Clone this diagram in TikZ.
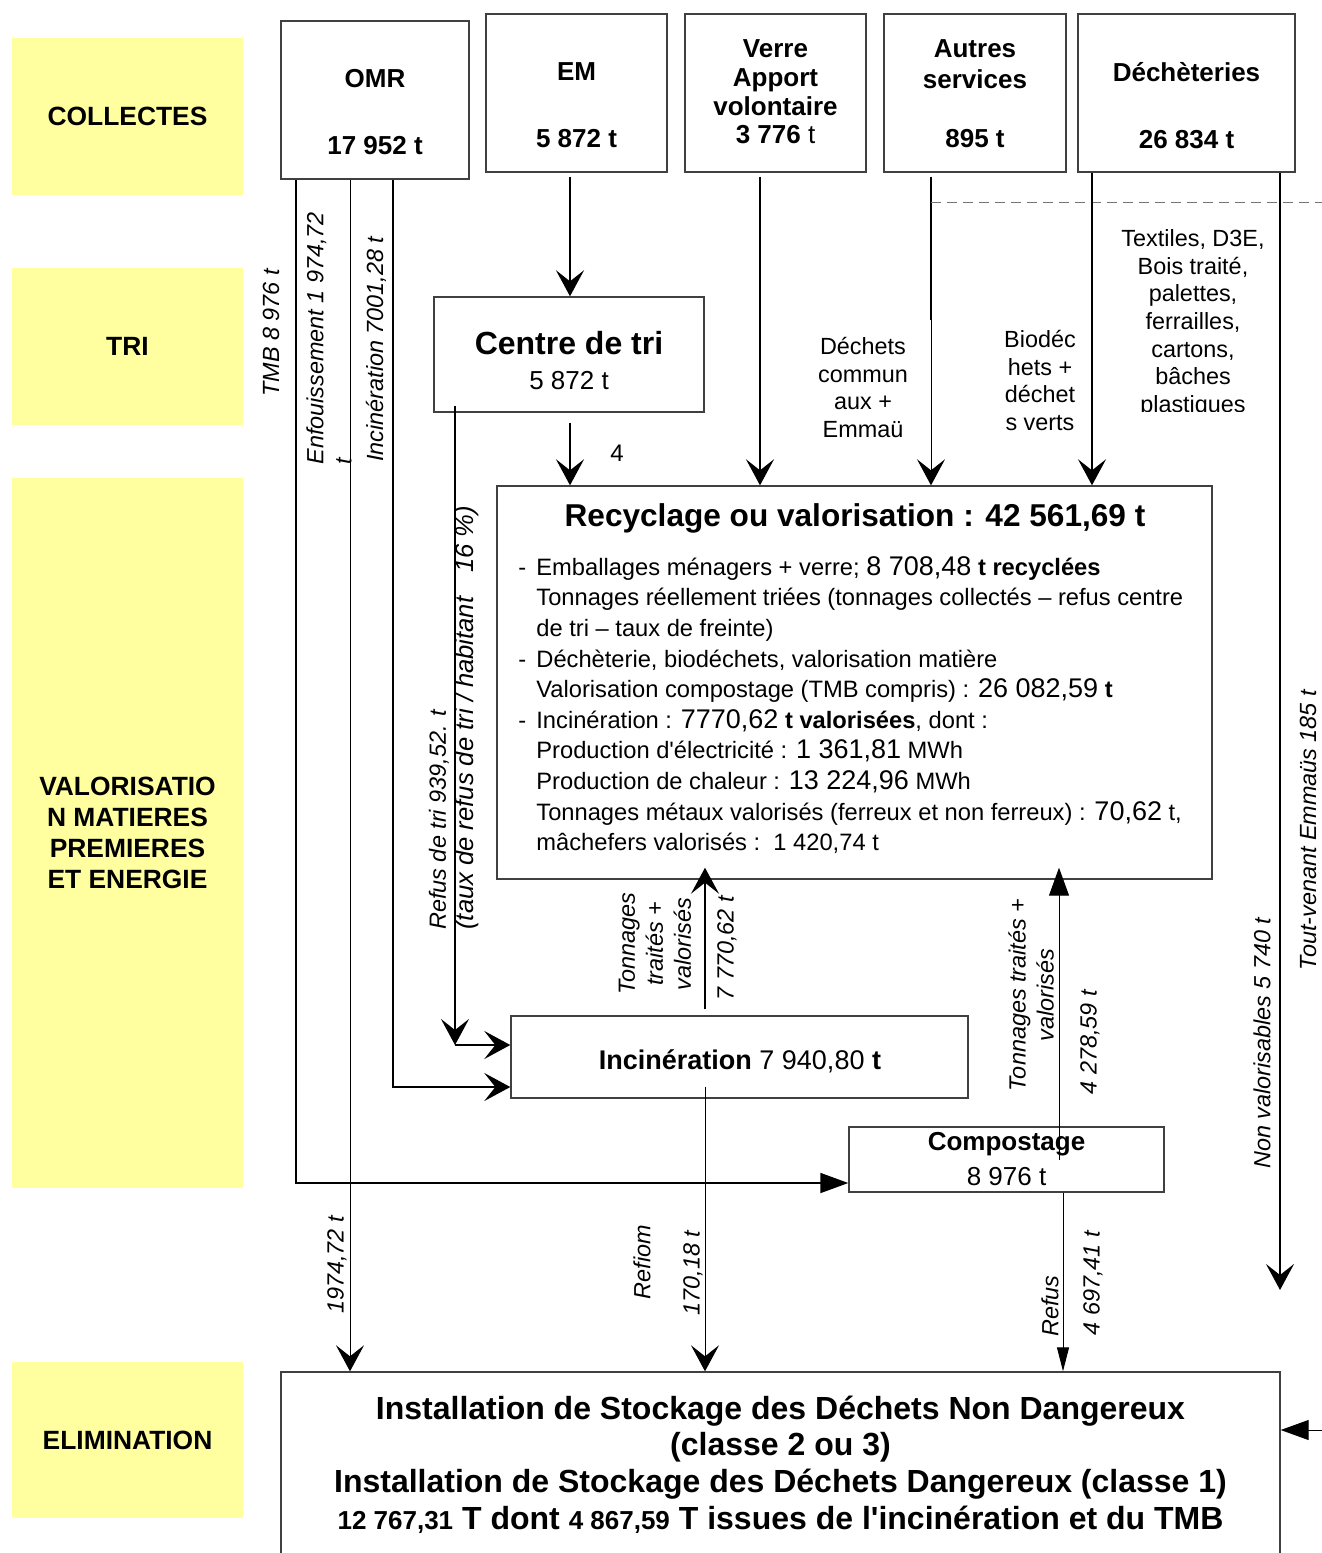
\documentclass[tikz,border=0pt]{standalone}
\usepackage{fontspec}
\setmainfont{Liberation Sans}[Ligatures=TeXOff]
\usetikzlibrary{arrows.meta}

\definecolor{jaune}{RGB}{255,255,160}
\newcommand{\gros}[1]{{\fontsize{13.5}{15}\selectfont #1}}
\newcommand{\petit}[1]{{\fontsize{13}{15}\selectfont #1}}
\newcommand{\tiret}{\makebox[9pt][l]{-}}
\newcommand{\retrait}{\hspace*{9pt}}

\tikzset{
  categorie/.style={fill=jaune, minimum width=115.5pt, inner sep=0pt, align=center,
    font=\fontsize{13.2}{15.5}\selectfont\bfseries},
  boite/.style={draw=black!75, line width=0.7pt, inner sep=0pt},
  titre/.style={align=center, inner sep=0pt, font=\fontsize{13}{14.3}\selectfont\bfseries},
  grand/.style={inner sep=0pt, font=\fontsize{16}{18}\selectfont\bfseries},
  normal/.style={inner sep=0pt, font=\fontsize{13}{15}\selectfont},
  legende/.style={align=center, inner sep=0pt, font=\fontsize{11.7}{13.85}\selectfont},
  corps/.style={align=left, inner sep=0pt, font=\fontsize{11.85}{15.3}\selectfont},
  flux/.style={rotate=90, inner sep=0pt, font=\fontsize{11.7}{14}\selectfont\itshape},
  trait/.style={line width=0.9pt},
  fin/.style={line width=0.5pt},
  fleche/.style={trait, -{Stealth[length=13pt, width=14pt, inset=5.5pt]}},
  flechepleine/.style={trait, -{Triangle[length=14pt, width=10pt]}},
  pointille/.style={fin, draw=black!55, dash pattern=on 5pt off 3pt},
}

\begin{document}
\begin{tikzpicture}[x=0.5pt, y=-0.5pt]
\useasboundingbox (0,0) rectangle (1322,1553);

% categories
\node[categorie, minimum height=78.5pt] (collectes) at (127.5,116.5) {COLLECTES};
\node[categorie, minimum height=78.5pt] (tri) at (127.5,346.5) {TRI};
\node[categorie, minimum height=355pt] (valo) at (127.5,833) {VALORISATIO\\N MATIERES\\PREMIERES\\ET ENERGIE};
\node[categorie, minimum height=78pt] (elim) at (127.5,1440) {ELIMINATION};

% collectes
\node[boite, minimum width=94pt, minimum height=79pt] (omr) at (375,100) {};
\node[titre] (omr-t) at (375,112.5) {OMR\\[19.2pt]17 952 t};
\node[boite, minimum width=90.5pt, minimum height=79pt] (em) at (576.5,93) {};
\node[titre] (em-t) at (576.5,105.5) {EM\\[19.2pt]5 872 t};
\node[boite, minimum width=90.5pt, minimum height=79pt] (verre) at (775.5,93) {};
\node[titre] (verre-t) at (775.5,92) {Verre\\Apport\\volontaire\\3 776 \mdseries t};
\node[boite, minimum width=91pt, minimum height=79pt] (autres) at (975,93) {};
\node[titre] (autres-t) at (975,94) {Autres\\[1.2pt]services\\[15.2pt]895 t};
\node[boite, minimum width=108.5pt, minimum height=79pt] (dech) at (1186.5,93) {};
\node[titre] (dech-t) at (1186.5,105.5) {Déchèteries\\[19.2pt]26 834 t};

% tri
\node[boite, minimum width=135pt, minimum height=57.5pt] (centre) at (569,354.5) {};
\node[grand] (centre-a) at (569,343) {Centre de tri};
\node[normal] (centre-b) at (569,381) {5 872 t};

% valorisation
\node[boite, minimum width=357.5pt, minimum height=196.5pt] (recyc) at (854.5,682.5) {};
\node[grand, font=\fontsize{15.8}{18}\selectfont\bfseries] (recyc-t) at (855,518) {Recyclage ou valorisation : 42 561,69 t};
\node[corps, anchor=north west] (recyc-c) at (518,556) {%
\tiret Emballages ménagers + verre; \gros{8 708,48} \textbf{t recyclées}\\
\retrait Tonnages réellement triées (tonnages collectés – refus centre\\
\retrait de tri – taux de freinte)\\
\tiret Déchèterie, biodéchets, valorisation matière\\
\retrait Valorisation compostage (TMB compris) : \gros{26 082,59} \textbf{t}\\
\tiret Incinération : \gros{7770,62} \textbf{t valorisées}, dont :\\
\retrait Production d'électricité : \gros{1 361,81} MWh\\
\retrait Production de chaleur : \gros{13 224,96} MWh\\
\retrait Tonnages métaux valorisés (ferreux et non ferreux) : \gros{70,62} t,\\
\retrait mâchefers valorisés :\ \ 1 420,74 t};

\node[boite, minimum width=228.5pt, minimum height=41pt] (incin) at (739.5,1057) {};
\node[titre, font=\fontsize{13.5}{15}\selectfont\bfseries] (incin-t) at (740,1061) {Incinération \mdseries 7 940,80 \bfseries t};
\node[boite, minimum width=157.5pt, minimum height=32.5pt] (compost) at (1006.5,1159.5) {};
\node[titre] (compost-a) at (1006.5,1144) {Compostage};
\node[normal] (compost-b) at (1006.5,1177) {8 976 t};

% elimination
\node[boite, minimum width=499.5pt, minimum height=114pt] (isdnd) at (780.5,1486) {};
\foreach \y/\txt [count=\i] in {1411/{Installation de Stockage des Déchets Non Dangereux},
    1447/{(classe 2 ou 3)},
    1484/{Installation de Stockage des Déchets Dangereux (classe 1)},
    1520/{\petit{12 767,31} T dont \petit{4 867,59} T issues de l'incinération et du TMB}}
  \node[grand] (isdnd-\i) at (780.5,\y) {\txt};

% flux OMR
\coordinate (tmb) at (296,1183);
\coordinate (inc) at (393,1087);
\draw[flechepleine] (omr.south -| tmb) -- (tmb) -- (tmb -| compost.west);
\draw[fleche, fin] (omr.south -| 350,0) -- (isdnd.north -| 350,0);
\draw[fleche] (omr.south -| inc) -- (inc) -- (inc -| incin.west);

% flux EM et centre de tri
\draw[fleche, shorten <=2pt] (em.south -| 570,0) -- (centre.north -| 570,0);
\draw[fleche, shorten <=5pt] (centre.south -| 570,0) -- (recyc.north -| 570,0);
\node[normal, font=\fontsize{12}{14}\selectfont] (quatre) at (617,453) {4};
\coordinate (ref) at (455,1045);
\draw[fleche, shorten <=-3.5pt] (centre.south -| ref) -- (ref);
\draw[fleche] (ref) -- (ref -| incin.west);

% verre, autres, decheteries
\draw[fleche, shorten <=2pt] (verre.south -| 760,0) -- (recyc.north -| 760,0);
\coordinate (aut) at (931,320);
\draw[trait, shorten <=2pt] (autres.south -| aut) -- (aut);
\draw[fleche, fin] (aut) -- (recyc.north -| aut);
\coordinate (tirets) at (1322,202);
\draw[pointille] (tirets -| aut) -- (tirets);
\draw[fleche] (dech.south -| 1092,0) -- (recyc.north -| 1092,0);
\coordinate (nv) at (1280,1290);
\draw[fleche] (dech.south -| nv) -- (nv);
\coordinate (tv) at (1322,1430);
\draw[flechepleine, fin] (tv) -- (tv -| isdnd.east);

% incineration et compostage
\draw[fleche, shorten <=3pt, shorten >=-6pt] (incin.north -| 705,0) -- (recyc.south -| 705,0);
\draw[fleche, fin, shorten <=-6pt] (incin.south -| 705,0) -- (isdnd.north -| 705,0);
\draw[flechepleine, fin, shorten >=-6pt] (compost.center -| 1059,0) -- (recyc.south -| 1059,0);
\draw[fin, -{Triangle[length=12pt, width=6pt]}] (compost.south -| 1063,0) -- (isdnd.north -| 1063,0);

% legendes
\node[flux] (l-tmb) at (271,333) {TMB 8 976 t};
\node[flux, align=left, anchor=west] (l-enfouis) at (329,465) {Enfouissement 1 974,72\\t};
\node[flux] (l-inc) at (376,349) {Incinération 7001,28 t};
\node[flux, align=left, anchor=west] (l-refus) at (454,930) {Refus de tri 939,52. t\\{\fontsize{12.8}{14}\selectfont (taux de refus de tri / habitant\hspace{12pt}16 \%)}};
\node[flux, align=center] (l-ton1) at (655,944) {Tonnages\\traités +\\valorisés};
\node[flux] (l-val1) at (727,948) {7 770,62 t};
\node[flux, align=center] (l-ton2) at (1031,995) {Tonnages traités +\\valorisés};
\node[flux] (l-val2) at (1090,1042) {4 278,59 t};
\node[flux] (l-nv) at (1262,1043) {Non valorisables 5 740 t};
\node[flux] (l-tv) at (1308,830) {Tout-venant Emmaüs 185 t};
\node[flux] (l-enf2) at (337,1265) {1974,72 t};
\node[flux] (l-refiom) at (642,1262) {Refiom};
\node[flux] (l-refiom2) at (693,1273) {170,18 t};
\node[flux] (l-refus2) at (1050,1306) {Refus};
\node[flux] (l-refus3) at (1093,1283) {4 697,41 t};

\node[legende] (l-communs) at (863,387.5) {Déchets\\commun\\aux +\\Emmaü};
\node[legende] (l-bio) at (1040,380.5) {Biodéc\\hets +\\déchet\\s verts};
\begin{scope}
  \clip (1100,225) rectangle (1275,411);
  \node[legende] (l-textiles) at (1193,323.5) {Textiles, D3E,\\Bois traité,\\palettes,\\ferrailles,\\cartons,\\bâches\\plastiques};
\end{scope}
\end{tikzpicture}
\end{document}
